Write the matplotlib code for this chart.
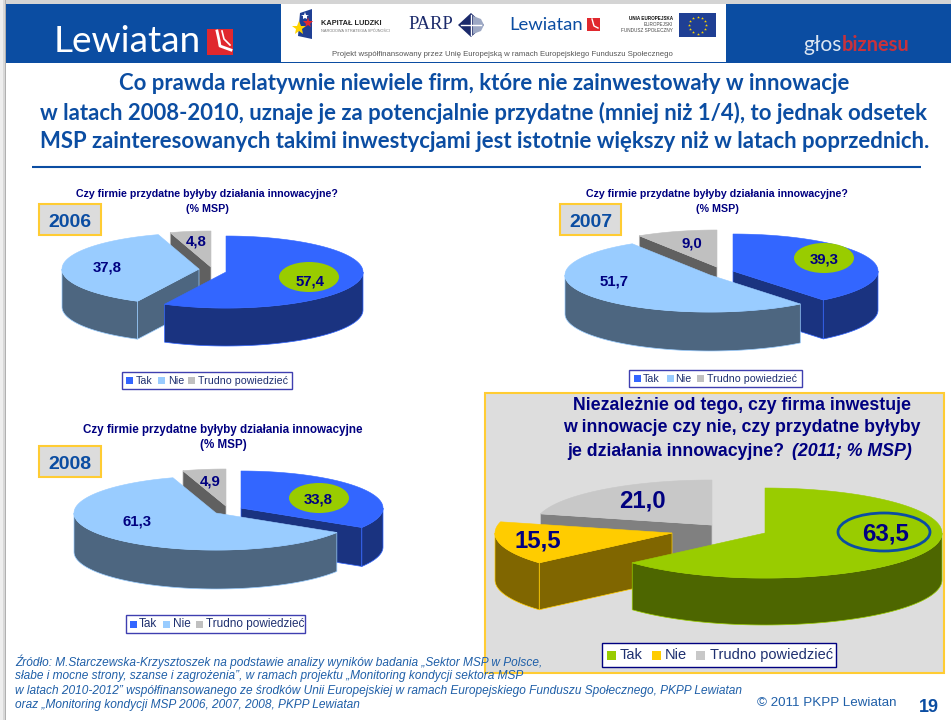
import numpy as np
import matplotlib
matplotlib.use('Agg')
import matplotlib.pyplot as plt
from matplotlib.patches import Ellipse, Polygon, Rectangle

# data
categories = ['Tak', 'Nie', 'Trudno powiedzieć']
values_2006 = [57.4, 37.8, 4.8]
values_2007 = [39.3, 51.7, 9.0]
values_2008 = [33.8, 61.3, 4.9]
values_2011 = [63.5, 15.5, 21.0]

title_lines = ['Co prawda relatywnie niewiele firm, które nie zainwestowały w innowacje',
               'w latach 2008-2010, uznaje je za potencjalnie przydatne (mniej niż 1/4), to jednak odsetek',
               'MSP zainteresowanych takimi inwestycjami jest istotnie większy niż w latach poprzednich.']
footer_lines = ['Źródło: M.Starczewska-Krzysztoszek na podstawie analizy wyników badania „Sektor MSP w Polsce,',
                'słabe i mocne strony, szanse i zagrożenia”, w ramach projektu „Monitoring kondycji sektora MSP',
                'w latach 2010-2012” współfinansowanego ze środków Unii Europejskiej w ramach Europejskiego Funduszu Społecznego, PKPP Lewiatan',
                'oraz „Monitoring kondycji MSP 2006, 2007, 2008, PKPP Lewiatan']

BLUE = '#0B4DA2'
NAVY = '#000080'
ARIAL = 'Liberation Sans'
PT = 0.72  # px to pt at dpi 100

blue_top = ['#3366FF', '#99CCFF', '#C0C0C0']
blue_side = ['#1A3380', '#4D6680', '#606060']
green_top = ['#99CC00', '#FFCC00', '#C8C8C8']
green_side = ['#4D6600', '#806600', '#808080']


def rim(c, rx, ry, ang):
    """Point on the pie rim, angle clockwise from north in degrees."""
    a = np.radians(ang)
    return np.column_stack([c[0] + rx * np.sin(a), c[1] - ry * np.cos(a)])


def pie3d(ax, values, centers, rx, ry, depth, tops, sides, order):
    """Tilted pie, one apex per slice so slices can be pulled out."""
    stops = np.concatenate([[0], np.cumsum(values)]) * 360 / sum(values)
    for i in order:
        a0, a1 = stops[i], stops[i + 1]
        c = centers[i]
        kw = dict(facecolor=sides[i], edgecolor=tops[i], lw=0.5)
        # back faces first
        for ang, vis in ((a0, np.sin(np.radians(a0)) < -1e-6), (a1, np.sin(np.radians(a1)) > 1e-6)):
            if vis:
                p = rim(c, rx, ry, [ang])[0]
                ax.add_patch(Polygon([c, p, (p[0], p[1] + depth), (c[0], c[1] + depth)], **kw))
        # outer wall, only the front half of the ellipse
        w0, w1 = max(a0, 90), min(a1, 270)
        if w1 > w0:
            arc = rim(c, rx, ry, np.linspace(w0, w1, 80))
            low = arc[::-1] + [0, depth]
            ax.add_patch(Polygon(np.vstack([arc, low]), **kw))
        arc = rim(c, rx, ry, np.linspace(a0, a1, 160))
        ax.add_patch(Polygon(np.vstack([[c], arc]), facecolor=tops[i], edgecolor=tops[i], lw=0.4))


def year_box(ax, x0, y0, x1, y1, year):
    ax.add_patch(Rectangle((x0, y0), x1 - x0, y1 - y0, facecolor='#DCDCDC', edgecolor='#FFCC33', lw=1.5))
    ax.text((x0 + x1) / 2, (y0 + y1) / 2 + 3, year, color=BLUE, family=ARIAL, weight='bold',
            fontsize=19.5 * PT, ha='center', va='center')


def legend(ax, box, squares, labels_x, colors, size, sq, edge):
    x0, y0, x1, y1 = box
    ax.add_patch(Rectangle((x0, y0), x1 - x0, y1 - y0, facecolor='white', edgecolor=edge, lw=1))
    ym = (y0 + y1) / 2
    for name, sx, lx, col in zip(categories, squares, labels_x, colors):
        ax.add_patch(Rectangle((sx, ym - sq / 2), sq, sq, facecolor=col, edgecolor='none'))
        ax.text(lx, ym, name, color='#1F3070', family=ARIAL, fontsize=size * PT, ha='left', va='center')


def vlabel(ax, x, y, val, size=15):
    ax.text(x, y, f'{val:.1f}'.replace('.', ','), color=NAVY, family=ARIAL, weight='bold',
            fontsize=size * PT, ha='center', va='center')


def question(ax, x, y, text, size=10.6):
    ax.text(x, y, text, color=NAVY, family=ARIAL, weight='bold', fontsize=size * PT, ha='center', va='center')
    ax.text(x, y + 15, '(% MSP)', color=NAVY, family=ARIAL, weight='bold', fontsize=size * PT, ha='center', va='center')


def header(ax):
    ax.add_patch(Rectangle((0, 4), 951, 58.5, facecolor=BLUE, edgecolor='none'))
    ax.add_patch(Rectangle((0, 0), 951, 4, facecolor='#D4D4D4', edgecolor='none'))
    ax.add_patch(Rectangle((0, 0), 3, 720, facecolor='#EEEEEE', edgecolor='none'))
    ax.add_patch(Rectangle((3, 0), 2, 720, facecolor='#D8D8D8', edgecolor='none'))
    ax.add_patch(Rectangle((5, 0), 1, 720, facecolor='#B0B0B0', edgecolor='none'))
    ax.add_patch(Rectangle((281, 4), 445, 57.5, facecolor='white', edgecolor='none'))

    # main logo
    ax.text(127, 42, 'Lewiatan', color='white', family='Lato', fontsize=37 * PT, ha='center', va='center')
    ax.add_patch(Rectangle((207, 28.5), 26, 26.5, facecolor='#E0282E', edgecolor='none'))
    ax.plot([217, 219, 220, 231], [31, 40, 46, 50], color='white', lw=2)
    ax.plot([222, 224, 230], [31, 39, 45], color='white', lw=1.2)

    # Kapitał Ludzki
    ax.add_patch(Polygon([(300, 13), (312, 9), (312, 39), (298, 36)], facecolor='#1F3F94', edgecolor='none'))
    ax.plot([305], [16], marker='*', ms=6, mew=0, color='white')
    ax.plot([299], [28], marker='*', ms=10, mew=0, color='#FFD400')
    ax.plot([308], [23], marker='*', ms=8, mew=0, color='#E0282E')
    ax.text(321, 23.5, 'KAPITAŁ LUDZKI', color='#222222', family=ARIAL, weight='bold', fontsize=7.4 * PT, ha='left', va='center')
    ax.text(321, 30.5, 'NARODOWA STRATEGIA SPÓJNOŚCI', color='#777777', family=ARIAL, fontsize=3.9 * PT,
            ha='left', va='center')

    # PARP
    ax.text(431, 24.5, 'PARP', color='#1B2A6B', family='Liberation Serif', fontsize=18.5 * PT, ha='center', va='center')
    ax.add_patch(Polygon([(471, 13), (484, 25), (471, 37), (458, 25)], facecolor='#1B2A6B', edgecolor='none'))
    ax.add_patch(Polygon([(473, 16), (481, 19), (484, 25), (481, 31), (473, 34)], facecolor='#9DA8C4', edgecolor='none'))
    ax.plot([471, 471], [15, 35], color='white', lw=1)
    ax.plot([461, 481], [25, 25], color='white', lw=1)

    # small Lewiatan
    ax.text(546, 24.5, 'Lewiatan', color=BLUE, family='Lato', fontsize=18.5 * PT, ha='center', va='center')
    ax.add_patch(Rectangle((587, 18), 13, 13, facecolor='#E0282E', edgecolor='none'))
    ax.plot([592, 594, 598], [19, 26, 28], color='white', lw=1)

    # EU
    ax.text(673, 18.5, 'UNIA EUROPEJSKA', color='#111111', family=ARIAL, weight='bold', fontsize=4.6 * PT, ha='right', va='center')
    ax.text(673, 25, 'EUROPEJSKI', color='#444444', family=ARIAL, fontsize=4.6 * PT, ha='right', va='center')
    ax.text(673, 30.5, 'FUNDUSZ SPOŁECZNY', color='#444444', family=ARIAL, fontsize=4.6 * PT, ha='right', va='center')
    ax.add_patch(Rectangle((679, 13), 37, 24, facecolor='#1F3F94', edgecolor='none'))
    t = np.arange(12) * np.pi / 6
    ax.plot(697.5 + 8.5 * np.cos(t), 25 + 8.5 * np.sin(t), ls='none', marker='*', ms=2.2, mew=0, color='#FFD400')

    ax.text(502.5, 54, 'Projekt współfinansowany przez Unię Europejską w ramach Europejskiego Funduszu Społecznego',
            color='#555555', family=ARIAL, fontsize=7.8 * PT, ha='center', va='center')

    # glos biznesu
    ax.text(842, 45, 'głos', color='#DCE6F2', family='Lato', fontsize=21 * PT, ha='right', va='center')
    ax.text(842, 45, 'biznesu', color='#C8323C', family='Lato', weight='bold', fontsize=20 * PT, ha='left', va='center')


fig = plt.figure(figsize=(9.51, 7.2), dpi=100)
ax = fig.add_axes([0, 0, 1, 1])
ax.set_xlim(0, 951)
ax.set_ylim(720, 0)
ax.axis('off')

header(ax)

title_x = [484, 484, 484.5]
title_y = [84, 113, 141]
for x, y, line in zip(title_x, title_y, title_lines):
    ax.text(x, y, line, color=BLUE, family='Lato', weight='bold', fontsize=22.1 * PT, ha='center', va='center')
ax.plot([32, 921], [167, 167], color=BLUE, lw=1.5, solid_capstyle='butt')

# 2006
question(ax, 207, 194, 'Czy firmie przydatne byłyby działania innowacyjne?')
year_box(ax, 39, 204, 101, 235, '2006')
pie3d(ax, values_2006, [(226, 272), (199, 269), (211, 267)], 137, 36, 38, blue_top, blue_side, [2, 1, 0])
ax.add_patch(Ellipse((309, 277), 60, 30, facecolor='#99CC00', edgecolor='none'))
vlabel(ax, 310, 282, values_2006[0])
vlabel(ax, 107, 268, values_2006[1])
vlabel(ax, 196, 241, values_2006[2])
legend(ax, (122, 372, 292, 389), [126, 158, 188], [136, 168, 198], blue_top, 10.6, 7, '#3F3FB0')

# 2007
question(ax, 717, 194, 'Czy firmie przydatne byłyby działania innowacyjne?')
year_box(ax, 560, 204, 621, 235, '2007')
pie3d(ax, values_2007, [(733, 271), (710, 275), (717, 267)], 145, 37, 39, blue_top, blue_side, [2, 0, 1])
ax.add_patch(Ellipse((824, 258), 60, 30, facecolor='#99CC00', edgecolor='none'))
vlabel(ax, 824, 260, values_2007[0])
vlabel(ax, 614, 282, values_2007[1])
vlabel(ax, 692, 244, values_2007[2])
legend(ax, (629, 370, 802, 387), [634, 667, 697], [643, 675, 707], blue_top, 10.6, 7, '#3F3FB0')

# 2008
question(ax, 223, 430, 'Czy firmie przydatne byłyby działania innowacyjne', 11.6)
year_box(ax, 39, 446, 101, 477, '2008')
pie3d(ax, values_2008, [(241, 508), (216, 513), (226, 506)], 142, 37, 39, blue_top, blue_side, [2, 0, 1])
ax.add_patch(Ellipse((319, 498), 60, 30, facecolor='#99CC00', edgecolor='none'))
vlabel(ax, 318, 500, values_2008[0])
vlabel(ax, 137, 521, values_2008[1])
vlabel(ax, 210, 482, values_2008[2])
legend(ax, (126, 615, 305, 633), [130, 163, 196], [139, 173, 206], blue_top, 11.7, 7, '#3F3FB0')

# 2011 panel
ax.add_patch(Rectangle((485, 393), 459, 280, facecolor='#DDDDDD', edgecolor='#FFCC33', lw=1.5))
for y, line in zip([406, 428], ['Niezależnie od tego, czy firma inwestuje', 'w innowacje czy nie, czy przydatne byłyby']):
    ax.text(742, y, line, color=NAVY, family=ARIAL, weight='bold', fontsize=17.8 * PT, ha='center', va='center')
ax.text(567, 451, 'je działania innowacyjne?', color=NAVY, family=ARIAL, weight='bold', fontsize=17.8 * PT, ha='left', va='center')
ax.text(792, 451, '(2011; % MSP)', color=NAVY, family=ARIAL, weight='bold', style='italic', fontsize=17.8 * PT, ha='left', va='center')
pie3d(ax, values_2011, [(765, 533), (672, 533), (712, 525)], 177, 45, 47, green_top, green_side, [2, 1, 0])
ax.add_patch(Ellipse((884, 532), 92, 38, facecolor='none', edgecolor=BLUE, lw=2))
vlabel(ax, 886, 534, values_2011[0], 24)
vlabel(ax, 538, 541, values_2011[1], 24)
vlabel(ax, 642, 501, values_2011[2], 24)
legend(ax, (602, 643, 836, 667), [607, 652, 696], [620, 665, 710], green_top, 14.6, 9, NAVY)

# footer
for y, line in zip([662, 676, 691, 705], footer_lines):
    ax.text(15, y, line, color='#1F5FA8', family=ARIAL, style='italic', fontsize=11.9 * PT, ha='left', va='center')
ax.text(757, 703, '© 2011 PKPP Lewiatan', color='#1F5FA8', family=ARIAL, fontsize=13.4 * PT, ha='left', va='center')
ax.text(919, 707, '19', color=BLUE, family=ARIAL, weight='bold', fontsize=18 * PT, ha='left', va='center')

fig.savefig('out.png', dpi=100)
